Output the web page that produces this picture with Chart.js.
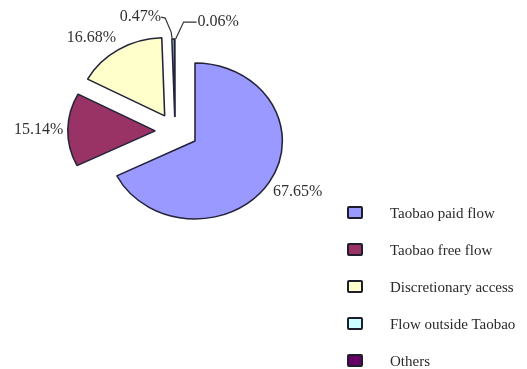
<!DOCTYPE html>
<html>
<head>
<meta charset="utf-8">
<script src="https://cdn.jsdelivr.net/npm/chart.js@4/dist/chart.umd.min.js"></script>
<style>
  html, body { margin: 0; padding: 0; background: #fff; }
  #wrap { position: relative; width: 527px; height: 369px; overflow: hidden; }
  #c { position: absolute; left: 0; top: 0; }
  .leg { position: absolute; left: 347px; font-family: "Liberation Serif", "DejaVu Serif", serif; font-size: 15px; color: #2a2a2a; white-space: nowrap; }
  .leg .box { position: absolute; left: 0; width: 12px; height: 9px; border: 2px solid #1e1e2a; border-radius: 2px; }
  .leg .txt { position: absolute; left: 43px; line-height: 16px; }
</style>
</head>
<body>
<div id="wrap">
  <canvas id="c" width="527" height="369"></canvas>
</div>
<script>
// ---- data ----
const categories = ['Taobao paid flow', 'Taobao free flow', 'Discretionary access', 'Flow outside Taobao', 'Others'];
const shares = [67.65, 15.14, 16.68, 0.47, 0.06];
const shareLabels = ['67.65%', '15.14%', '16.68%', '0.47%', '0.06%'];
const sliceColors = ['#9999FF', '#993366', '#FFFFCC', '#CCFFFF', '#660066'];

// ---- styling ----
const SX = 1.12; // horizontal stretch: the reference pie is an ellipse
// exploded slices: pull distance (px) and pull direction (degrees clockwise from 12 o'clock)
const explodeDist = [0, 37, 37, 30, 30];
const explodeDir = [0, 286, 313, 323, 323];
const labelFont = '16px "Liberation Serif", "DejaVu Serif", serif';
const textColor = '#303030';

const ellipsePlugin = {
  id: 'ellipseAndLabels',
  afterDatasetsUpdate(chart) {
    const meta = chart.getDatasetMeta(0);
    const first = meta.data[0];
    chart.$pieCenter = { x: first.x, y: first.y };
    meta.data.forEach((el, i) => {
      const a = explodeDir[i] * Math.PI / 180;
      el.x += Math.sin(a) * explodeDist[i];
      el.y -= Math.cos(a) * explodeDist[i];
    });
  },
  beforeDatasetsDraw(chart) {
    const c = chart.$pieCenter;
    const ctx = chart.ctx;
    ctx.save();
    ctx.translate(c.x, c.y);
    ctx.scale(SX, 1);
    ctx.translate(-c.x, -c.y);
  },
  afterDatasetsDraw(chart) {
    const ctx = chart.ctx;
    ctx.restore();
    const cen = chart.$pieCenter;
    const meta = chart.getDatasetMeta(0);
    const mapX = (x) => cen.x + (x - cen.x) * SX;
    ctx.save();
    ctx.font = labelFont;
    ctx.fillStyle = textColor;
    ctx.strokeStyle = '#333333';
    ctx.lineWidth = 1.2;
    let smallCount = 0;
    meta.data.forEach((arc, i) => {
      const p = arc.getProps(['x', 'y', 'startAngle', 'endAngle', 'outerRadius'], true);
      const mid = (p.startAngle + p.endAngle) / 2;
      const c = Math.cos(mid), s = Math.sin(mid);
      const txt = shareLabels[i];
      if (shares[i] >= 1) {
        const r = p.outerRadius + 4;
        const ax = mapX(p.x + c * r);
        const ay = p.y + s * r;
        ctx.textAlign = c > 0.1 ? 'left' : (c < -0.1 ? 'right' : 'center');
        ctx.textBaseline = s < -0.5 ? 'bottom' : (s > 0.5 ? 'top' : 'middle');
        ctx.fillText(txt, ax, ay);
      } else {
        const px = mapX(p.x + c * p.outerRadius);
        const py = p.y + s * p.outerRadius;
        ctx.beginPath();
        if (smallCount === 0) {
          ctx.moveTo(px - 1, py);
          ctx.lineTo(px - 2, py - 7);
          ctx.lineTo(px - 8, py - 21);
          ctx.lineTo(px - 12, py - 22);
          ctx.stroke();
          ctx.textAlign = 'right';
          ctx.textBaseline = 'middle';
          ctx.fillText(txt, px - 12, py - 22);
        } else {
          ctx.moveTo(px + 1, py);
          ctx.lineTo(px + 9, py - 17);
          ctx.lineTo(px + 22, py - 17);
          ctx.stroke();
          ctx.textAlign = 'left';
          ctx.textBaseline = 'middle';
          ctx.fillText(txt, px + 23, py - 17);
        }
        smallCount++;
      }
    });
    ctx.restore();
  }
};

new Chart(document.getElementById('c'), {
  type: 'pie',
  data: {
    labels: categories,
    datasets: [{
      data: shares,
      backgroundColor: sliceColors,
      borderColor: '#23233a',
      borderWidth: 1.4,
      clip: false
    }]
  },
  options: {
    responsive: false,
    animation: false,
    events: [],
    radius: 78,
    layout: { padding: { left: 0, right: 137, top: 0, bottom: 87 } },
    plugins: { legend: { display: false }, tooltip: { enabled: false } }
  },
  plugins: [ellipsePlugin]
});

// ---- legend (HTML, built from the arrays) ----
const wrap = document.getElementById('wrap');
const legendTop = 213, legendStep = 37;
categories.forEach((name, i) => {
  const row = document.createElement('div');
  row.className = 'leg';
  row.style.top = (legendTop + i * legendStep - 8) + 'px';
  const box = document.createElement('div');
  box.className = 'box';
  box.style.top = '1px';
  box.style.background = sliceColors[i];
  const t = document.createElement('div');
  t.className = 'txt';
  t.textContent = name;
  row.appendChild(box);
  row.appendChild(t);
  wrap.appendChild(row);
});
</script>
</body>
</html>
